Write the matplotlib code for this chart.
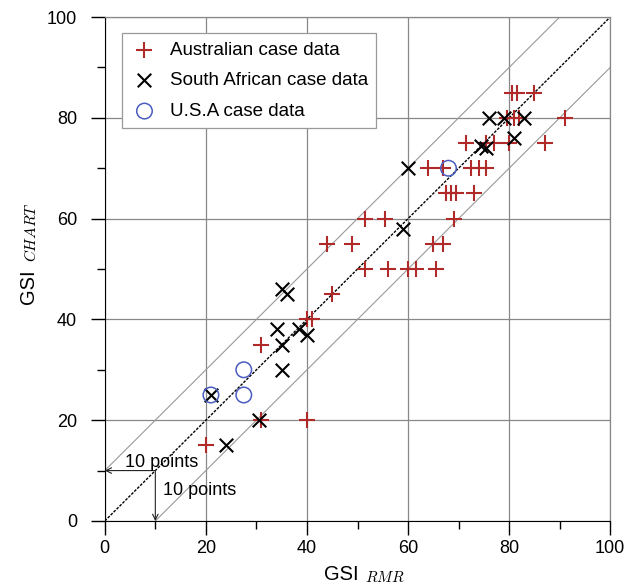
import numpy as np
import matplotlib
matplotlib.use("Agg")
import matplotlib.pyplot as plt
from matplotlib.ticker import MultipleLocator

plt.rcParams['font.family'] = ['Liberation Sans', 'DejaVu Sans']
plt.rcParams['mathtext.fontset'] = 'cm'

# --- Dữ liệu ---
aus_rmr = [20, 31, 40, 31, 40, 41, 45,
           51.5, 56, 60, 61.5, 65.5,
           44, 49, 65, 67,
           51.5, 55.5, 69,
           67.5, 68.5, 69.5, 73,
           64, 67, 72.5, 74, 75.5,
           71.5, 75.5, 77, 80, 87,
           79.5, 81, 82, 91,
           80.5, 81.5, 85]
aus_chart = [15, 20, 20, 35, 40, 40, 45,
             50, 50, 50, 50, 50,
             55, 55, 55, 55,
             60, 60, 60,
             65, 65, 65, 65,
             70, 70, 70, 70, 70,
             75, 75, 75, 75, 75,
             80, 80, 80, 80,
             85, 85, 85]

sa_rmr = [24, 21, 30.5, 35, 35, 34, 38.5, 40, 35, 36, 59, 60, 74.5, 75.5, 81, 76, 79, 83]
sa_chart = [15, 25, 20, 30, 35, 38, 38, 37, 46, 45, 58, 70, 74.5, 74, 76, 80, 80, 80]

usa_rmr = [21, 27.5, 27.5, 68]
usa_chart = [25, 30, 25, 70]

fig = plt.figure(figsize=(6.35, 5.88), dpi=100)
ax = fig.add_axes([0.165, 0.114, 0.796, 0.857])

# đường chéo và hai đường ±10
xx = np.array([0, 100])
ax.plot(xx, xx, color='black', lw=1, ls=(0, (2, 1)), zorder=2)
ax.plot([0, 90], [10, 100], color='#999999', lw=0.8, zorder=2)
ax.plot([10, 100], [0, 90], color='#999999', lw=0.8, zorder=2)

ax.scatter(aus_rmr, aus_chart, marker='+', s=130, color='#b02a2a', linewidths=1.5,
           label='Australian case data', zorder=3)
ax.scatter(sa_rmr, sa_chart, marker='x', s=95, color='black', linewidths=1.5,
           label='South African case data', zorder=4)
ax.scatter(usa_rmr, usa_chart, marker='o', s=125, facecolors='none', edgecolors='#4a5cc0',
           linewidths=1.1, label='U.S.A case data', zorder=5)

# mũi tên "10 points"
ax.annotate('', xy=(0, 10), xytext=(10, 10),
            arrowprops=dict(arrowstyle='->', color='#222222', lw=0.8, shrinkA=0, shrinkB=0))
ax.annotate('', xy=(10, 0), xytext=(10, 10),
            arrowprops=dict(arrowstyle='->', color='#222222', lw=0.8, shrinkA=0, shrinkB=0))
ax.text(4.0, 10.7, '10 points', fontsize=13, ha='left', va='baseline')
ax.text(11.5, 5.2, '10 points', fontsize=13, ha='left', va='baseline')

ax.set_xlim(0, 100)
ax.set_ylim(0, 100)
ax.xaxis.set_major_locator(MultipleLocator(20))
ax.yaxis.set_major_locator(MultipleLocator(20))
ax.xaxis.set_minor_locator(MultipleLocator(10))
ax.yaxis.set_minor_locator(MultipleLocator(10))
ax.tick_params(which='major', direction='out', length=10, width=1, labelsize=13)
ax.tick_params(which='minor', direction='out', length=5.5, width=1)
ax.tick_params(axis='x', which='major', pad=3.5)
ax.tick_params(axis='y', which='major', pad=10)
ax.grid(True, which='major', color='#888888', lw=0.9)
ax.set_axisbelow(True)
for s in ['top', 'right']:
    ax.spines[s].set_color('#888888')
    ax.spines[s].set_linewidth(0.9)

# nhãn trục: GSI + chỉ số nghiêng
ax.annotate('GSI', xy=(0.5, 0), xycoords='axes fraction', xytext=(1, -59),
            textcoords='offset pixels', ha='right', va='baseline', fontsize=14.5)
ax.annotate('$RMR$', xy=(0.5, 0), xycoords='axes fraction', xytext=(7, -61),
            textcoords='offset pixels', ha='left', va='baseline', fontsize=11)
ax.annotate('GSI', xy=(0, 0.5), xycoords='axes fraction', xytext=(-71, 0),
            textcoords='offset pixels', ha='right', va='baseline', fontsize=14.5,
            rotation=90, rotation_mode='anchor')
ax.annotate('$CHART$', xy=(0, 0.5), xycoords='axes fraction', xytext=(-69, 7),
            textcoords='offset pixels', ha='left', va='baseline', fontsize=11,
            rotation=90, rotation_mode='anchor')

leg = ax.legend(loc='upper left', bbox_to_anchor=(0.034, 0.968), borderaxespad=0,
                fontsize=13.5, fancybox=False, framealpha=1, edgecolor='#999999',
                handlelength=1.5, handletextpad=0.6, borderpad=0.45, labelspacing=0.72)
leg.get_frame().set_linewidth(0.9)

plt.savefig('out.png', dpi=100)
